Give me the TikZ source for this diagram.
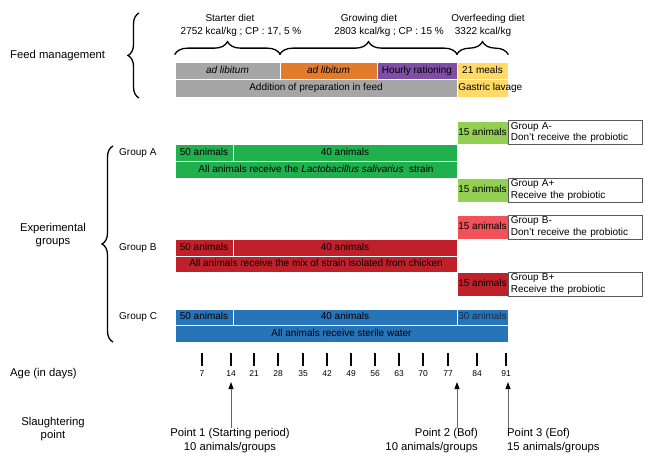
\documentclass[tikz,border=0pt]{standalone}
\usepackage{fontspec}
\setmainfont{Liberation Sans}
\usetikzlibrary{decorations.pathreplacing,arrows.meta}
\definecolor{cgray}{HTML}{A6A6A6}
\definecolor{corange}{HTML}{E27B2C}
\definecolor{cpurple}{HTML}{7E4DA6}
\definecolor{cyellow}{HTML}{FFDA66}
\definecolor{cgreen}{HTML}{20B04E}
\definecolor{clgreen}{HTML}{92CF52}
\definecolor{clred}{HTML}{F1525A}
\definecolor{cdred}{HTML}{C0202A}
\definecolor{cblue}{HTML}{2874B8}
\definecolor{cdblue}{HTML}{15294A}
\newcommand\mycell[7]{\node[cell,#6,minimum width={(#4)-(#2)},minimum height={(#5)-(#3)}] (#1) at ({((#2)+(#4))/2},{((#3)+(#5))/2}) {#7};}
\begin{document}
\begin{tikzpicture}[x=1pt,y=-1pt,
  txt/.style={inner sep=0pt,font=\fontsize{10}{12}\selectfont,text height=7.2pt,text depth=2.1pt},
  big/.style={inner sep=0pt,font=\fontsize{11.3}{13.5}\selectfont},
  cell/.style={draw=white,line width=0.7pt,inner sep=0pt,font=\fontsize{10}{12}\selectfont,text height=7.2pt,text depth=2.1pt},
  wbox/.style={draw=black!65,line width=1pt,fill=white,anchor=west,text width=130pt,align=left,inner xsep=2pt,inner ysep=0pt,font=\fontsize{10}{11.5}\selectfont},
  brc/.style={draw=black,line width=1.3pt,decorate,decoration={brace,amplitude=#1}},
  tick/.style={draw=black,line width=2.8pt},
  num/.style={inner sep=0pt,font=\fontsize{8.5}{10}\selectfont},
  arr/.style={draw=black!60,line width=0.9pt,-{Triangle[length=7pt,width=5pt,color=black]}}]
\useasboundingbox (0,0) rectangle (650,468);

% ---------- Feed management ----------
\node[big,anchor=west] (fm) at (10,56) {Feed management};
\draw[brc=11pt] (139,98) -- (139,13);

\node[txt] (sd) at (230,19) {Starter diet};
\node[txt] (sdk) at (241,32) {2752 kcal/kg ; CP : 17, 5 \%};
\node[txt] (gd) at (369,19) {Growing diet};
\node[txt] (gdk) at (389,32) {2803 kcal/kg ; CP : 15 \%};
\node[txt] (od) at (488,19) {Overfeeding diet};
\node[txt] (odk) at (483,32) {3322 kcal/kg};

\mycell{fa}{175}{62}{280}{79}{fill=cgray}{\itshape ad libitum}
\mycell{fb}{280}{62}{377}{79}{fill=corange}{\itshape ad libitum}
\mycell{fc}{377}{62}{457}{79}{fill=cpurple}{Hourly rationing}
\mycell{fd}{457}{62}{508}{79}{fill=cyellow}{21 meals}
\mycell{fe}{175}{79}{457}{97}{fill=cgray}{Addition of preparation in feed}
\mycell{ff}{457}{79}{508}{97}{fill=cyellow}{}
\node[txt,anchor=west] (gl) at ([xshift=1.5pt]ff.west) {Gastric lavage};

\draw[brc=13pt] ([yshift=7pt]fa.north west) -- ([yshift=7pt]fa.north east);
\draw[brc=13pt] ([yshift=7pt]fb.north west) -- ([yshift=7pt]fc.north east);
\draw[brc=13pt] ([yshift=7pt]fd.north west) -- ([yshift=7pt]fd.north east);

% ---------- Experimental groups ----------
\node[big,align=center] (eg) at (53,235) {Experimental\\groups};
\draw[brc=11pt] (113,342) -- (113,146);

\node[txt,anchor=west] (ga) at (119,153) {Group A};
\node[txt,anchor=west] (gb) at (119,248) {Group B};
\node[txt,anchor=west] (gc) at (119,317) {Group C};

% Group A
\mycell{am}{457}{121}{508}{144}{fill=clgreen}{15 animals}
\node[wbox,minimum height=23pt] (amt) at (am.east) {Group A-\\Don't receive the probiotic};
\mycell{a1}{175}{144}{233}{161}{fill=cgreen}{50 animals}
\mycell{a2}{233}{144}{457}{161}{fill=cgreen}{40 animals}
\mycell{a3}{175}{161}{457}{178}{fill=cgreen}{All animals receive the \textit{Lactobacillus salivarius}\ \ strain}
\mycell{ap}{457}{178}{508}{202}{fill=clgreen}{15 animals}
\node[wbox,minimum height=24pt] (apt) at (ap.east) {Group A+\\Receive the probiotic};

% Group B
\mycell{bm}{457}{215}{508}{239}{fill=clred}{15 animals}
\node[wbox,minimum height=24pt] (bmt) at (bm.east) {Group B-\\Don't receive the probiotic};
\mycell{b1}{175}{239}{233}{256}{fill=cdred}{50 animals}
\mycell{b2}{233}{239}{457}{256}{fill=cdred}{40 animals}
\mycell{b3}{175}{256}{457}{272}{fill=cdred}{All animals receive the mix of strain isolated from chicken}
\mycell{bp}{457}{272}{508}{296}{fill=cdred}{15 animals}
\node[wbox,minimum height=24pt] (bpt) at (bp.east) {Group B+\\Receive the probiotic};

% Group C
\mycell{c1}{175}{309}{233}{325}{fill=cblue}{50 animals}
\mycell{c2}{233}{309}{457}{325}{fill=cblue}{40 animals}
\mycell{c3}{457}{309}{508}{325}{fill=cblue,text=cdblue}{30 animals}
\mycell{c4}{175}{325}{508}{342}{fill=cblue}{All animals receive sterile water}

% ---------- Age axis ----------
\node[big,anchor=west] (age) at (10,374) {Age (in days)};
\foreach \d/\xx in {7/202,14/231,21/254,28/278,35/303,42/327,49/351,56/375,63/399,70/423,77/448,84/477,91/506}{
  \draw[tick] (\xx,353) -- (\xx,366);
  \node[num] (d\d) at (\xx,374) {\d};
}

% ---------- Slaughtering points ----------
\node[big,align=center] (sp) at (53,429) {Slaughtering\\point};
\node[big,align=center] (p1) at (230,440.5) {Point 1 (Starting period)\\10 animals/groups};
\node[big,align=right,anchor=east] (p2) at (478,440.5) {Point 2 (Bof)\\10 animals/groups};
\node[big,align=left,anchor=west] (p3) at (507,440.5) {Point 3 (Eof)\\15 animals/groups};
\coordinate (a1t) at (231,382);
\coordinate (a2t) at (457,382);
\coordinate (a3t) at (508,382);
\draw[arr] (a1t |- p1.north) -- (a1t);
\draw[arr] (a2t |- p2.north) -- (a2t);
\draw[arr] (a3t |- p3.north) -- (a3t);
\end{tikzpicture}
\end{document}
